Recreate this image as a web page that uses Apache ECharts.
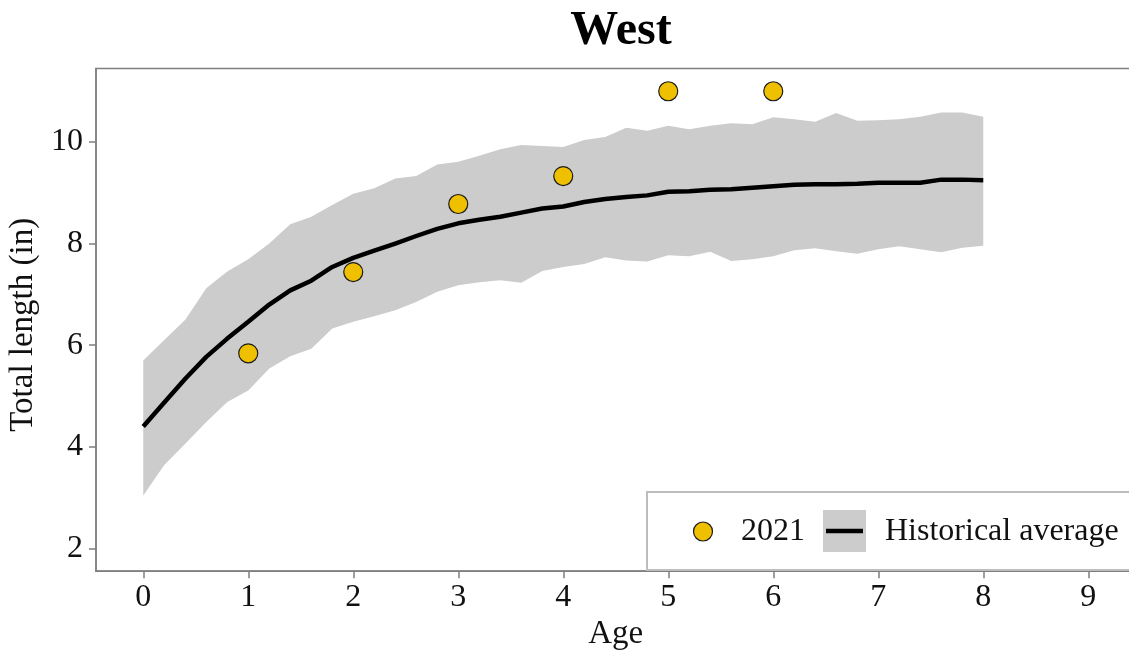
<!DOCTYPE html>
<html>
<head>
<meta charset="utf-8">
<script src="https://cdn.jsdelivr.net/npm/echarts@6/dist/echarts.min.js"></script>
<style>
  html, body { margin: 0; padding: 0; background: #ffffff; }
  #chart { width: 1129px; height: 652px; }
</style>
</head>
<body>
<div id="chart"></div>
<script>
// Ages at which the historical summary was computed (every 0.2 year)
const ages = [0, 0.2, 0.4, 0.6, 0.8, 1.0, 1.2, 1.4, 1.6, 1.8, 2.0, 2.2, 2.4, 2.6, 2.8, 3.0,
  3.2, 3.4, 3.6, 3.8, 4.0, 4.2, 4.4, 4.6, 4.8, 5.0, 5.2, 5.4, 5.6, 5.8, 6.0, 6.2, 6.4,
  6.6, 6.8, 7.0, 7.2, 7.4, 7.6, 7.8, 8.0];

// Historical average total length (in)
const histMean = [4.40, 4.87, 5.34, 5.77, 6.13, 6.46, 6.80, 7.08, 7.27, 7.54, 7.72, 7.86,
  8.00, 8.15, 8.29, 8.40, 8.47, 8.53, 8.61, 8.69, 8.73, 8.82, 8.88, 8.92, 8.95, 9.02,
  9.03, 9.06, 9.07, 9.10, 9.13, 9.16, 9.17, 9.17, 9.18, 9.20, 9.20, 9.20, 9.26, 9.26, 9.25];

// Upper and lower limits of the historical range
const histUpper = [5.70, 6.10, 6.50, 7.12, 7.45, 7.69, 8.00, 8.38, 8.53, 8.76, 8.98, 9.09,
  9.28, 9.33, 9.56, 9.61, 9.73, 9.86, 9.94, 9.92, 9.90, 10.04, 10.10, 10.28, 10.22, 10.32,
  10.25, 10.32, 10.37, 10.35, 10.49, 10.45, 10.40, 10.57, 10.42, 10.43, 10.45, 10.50,
  10.58, 10.58, 10.50];
const histLower = [3.04, 3.64, 4.06, 4.49, 4.88, 5.11, 5.54, 5.78, 5.93, 6.33, 6.46, 6.57,
  6.69, 6.85, 7.05, 7.18, 7.24, 7.28, 7.23, 7.46, 7.54, 7.60, 7.73, 7.67, 7.65, 7.77,
  7.75, 7.84, 7.66, 7.69, 7.75, 7.87, 7.91, 7.85, 7.80, 7.89, 7.95, 7.89, 7.83, 7.92, 7.96];

// 2021 sample: mean total length by age
const ages2021 = [1, 2, 3, 4, 5, 6];
const len2021 = [5.84, 7.44, 8.78, 9.33, 11.0, 11.0];

// Tick labels
const xTicks = [0, 1, 2, 3, 4, 5, 6, 7, 8, 9];
const yTicks = [2, 4, 6, 8, 10];

const SERIF = "'Liberation Serif', 'Times New Roman', Times, serif";
const AXIS_GREY = '#7f7f7f';
const TXT = '#111111';

const bandData = ages.map((a, i) => [a, histLower[i], histUpper[i]]);
const meanData = ages.map((a, i) => [a, histMean[i]]);
const pointData = ages2021.map((a, i) => [a, len2021[i]]);

// Shaded historical range: one polygon, upper edge forward then lower edge back
function renderBand(params, api) {
  if (params.dataIndex !== 0) return null;
  const upper = bandData.map(d => api.coord([d[0], d[2]]));
  const lower = bandData.map(d => api.coord([d[0], d[1]])).reverse();
  return {
    type: 'polygon',
    shape: { points: upper.concat(lower) },
    style: { fill: '#cccccc', stroke: null }
  };
}

const chart = echarts.init(document.getElementById('chart'), null, { renderer: 'canvas' });

chart.setOption({
  animation: false,
  backgroundColor: '#ffffff',
  title: {
    text: 'West',
    left: 616,
    top: 3,
    textAlign: 'center',
    textStyle: { fontFamily: SERIF, fontWeight: 'bold', fontSize: 48, color: '#000000' }
  },
  grid: {
    left: 96, right: -6.5, top: 68.4, bottom: 80.8,
    outerBoundsMode: 'none',
    containLabel: false,
    show: true, borderColor: AXIS_GREY, borderWidth: 1.5, backgroundColor: 'transparent'
  },
  xAxis: {
    type: 'value',
    min: -0.45, max: 9.45,
    name: 'Age',
    nameLocation: 'middle',
    nameGap: 43,
    nameTextStyle: { fontFamily: SERIF, fontSize: 33, color: TXT },
    axisLine: { show: true, onZero: false, lineStyle: { color: AXIS_GREY, width: 1.5 } },
    axisTick: { show: true, length: 7, lineStyle: { color: AXIS_GREY, width: 1.5 }, customValues: xTicks },
    axisLabel: { margin: 10, fontFamily: SERIF, fontSize: 32, color: TXT, customValues: xTicks },
    splitLine: { show: false }
  },
  yAxis: {
    type: 'value',
    min: 1.55, max: 11.45,
    name: 'Total length (in)',
    nameLocation: 'middle',
    nameGap: 51,
    nameTextStyle: { fontFamily: SERIF, fontSize: 33, color: TXT, padding: [0, 10, 0, 0] },
    axisLine: { show: true, onZero: false, lineStyle: { color: AXIS_GREY, width: 1.5 } },
    axisTick: { show: true, length: 7, lineStyle: { color: AXIS_GREY, width: 1.5 }, customValues: yTicks },
    axisLabel: { margin: 13, fontFamily: SERIF, fontSize: 32, color: TXT, customValues: yTicks },
    splitLine: { show: false }
  },
  series: [
    {
      name: 'range',
      type: 'custom',
      renderItem: renderBand,
      data: bandData,
      encode: { x: 0, y: [1, 2] },
      silent: true,
      z: 1
    },
    {
      name: 'Historical average',
      type: 'line',
      data: meanData,
      symbol: 'none',
      lineStyle: { color: '#000000', width: 4.5, cap: 'butt', join: 'round' },
      z: 2
    },
    {
      name: '2021',
      type: 'scatter',
      data: pointData,
      symbol: 'circle',
      symbolSize: 19,
      itemStyle: { color: '#EFC000', borderColor: '#1a1a1a', borderWidth: 1.2, opacity: 1 },
      z: 3
    }
  ],
  graphic: [
    {
      type: 'rect',
      z: 100,
      shape: { x: 647, y: 492, width: 520, height: 78 },
      style: { fill: '#ffffff', stroke: '#bdbdbd', lineWidth: 2 }
    },
    {
      type: 'circle',
      z: 101,
      shape: { cx: 703, cy: 531.5, r: 9.5 },
      style: { fill: '#EFC000', stroke: '#1a1a1a', lineWidth: 1.2 }
    },
    {
      type: 'text',
      z: 101,
      x: 741, y: 532,
      style: {
        text: '2021',
        font: '32px ' + SERIF, fill: TXT,
        textAlign: 'left', textVerticalAlign: 'middle',
        align: 'left', verticalAlign: 'middle'
      }
    },
    {
      type: 'rect',
      z: 101,
      shape: { x: 823, y: 510, width: 43, height: 42 },
      style: { fill: '#cccccc' }
    },
    {
      type: 'line',
      z: 102,
      shape: { x1: 826, y1: 531, x2: 863, y2: 531 },
      style: { stroke: '#000000', lineWidth: 4.5 }
    },
    {
      type: 'text',
      z: 101,
      x: 885, y: 532,
      style: {
        text: 'Historical average',
        font: '32px ' + SERIF, fill: TXT,
        textAlign: 'left', textVerticalAlign: 'middle',
        align: 'left', verticalAlign: 'middle'
      }
    }
  ]
});
</script>
</body>
</html>
